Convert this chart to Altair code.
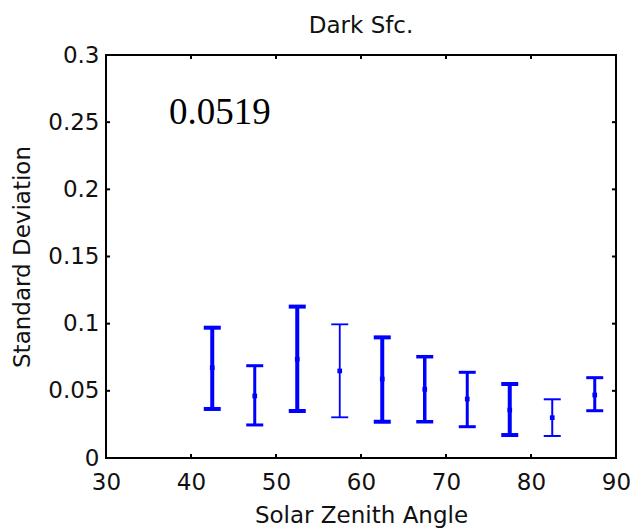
import altair as alt
import pandas as pd

# ---- data ----
angles = [42.5, 47.5, 52.5, 57.5, 62.5, 67.5, 72.5, 77.5, 82.5, 87.5]
means = [0.0672, 0.0462, 0.0735, 0.0648, 0.0588, 0.0511, 0.0439, 0.0357, 0.0300, 0.0469]
lows = [0.0365, 0.0246, 0.0350, 0.0303, 0.0270, 0.0270, 0.0233, 0.0171, 0.0164, 0.0352]
highs = [0.0970, 0.0687, 0.1127, 0.0995, 0.0898, 0.0754, 0.0638, 0.0551, 0.0437, 0.0598]
x_ticks = [30, 40, 50, 60, 70, 80, 90]
y_ticks = [0, 0.05, 0.1, 0.15, 0.2, 0.25, 0.3]
title_text = ["Dark Sfc."]
annotation_text = ["0.0519"]
annotation_x = [37.4]
annotation_y = [0.249]

# ---- styles ----
line_widths = [4.0, 3.0, 4.0, 1.8, 4.0, 3.5, 3.0, 4.0, 2.0, 3.0]
BLUE = "#0000ff"
FONT = "DejaVu Sans"
W, H = 510, 403

df = pd.DataFrame({"angle": angles, "mean": means, "low": lows, "high": highs, "lw": line_widths})
inner_x = pd.DataFrame({"t": x_ticks[1:-1]})
inner_y = pd.DataFrame({"t": y_ticks[1:-1]})
ann = pd.DataFrame({"text": annotation_text, "x": annotation_x, "y": annotation_y})
ttl = pd.DataFrame({"text": title_text})

xs = alt.Scale(domain=[30, 90], nice=False, zero=False)
ys = alt.Scale(domain=[0, 0.3], nice=False)

x_axis = alt.Axis(values=x_ticks, format="d", tickSize=0, domain=False, grid=False,
                  labelFlush=False, labelPadding=13, labelFont=FONT, labelFontSize=23,
                  labelColor="#111",
                  title="Solar Zenith Angle", titleFont=FONT, titleFontSize=23,
                  titleFontWeight="normal", titleColor="#111", titleX=W / 2, titleY=64,
                  titleBaseline="alphabetic")
y_axis = alt.Axis(values=y_ticks, format="~g", tickSize=0, domain=False, grid=False,
                  labelFlush=False, labelPadding=7, labelFont=FONT, labelFontSize=23,
                  labelColor="#111",
                  title="Standard Deviation", titleFont=FONT, titleFontSize=23,
                  titleFontWeight="normal", titleColor="#111", titleX=-84, titleY=H / 2,
                  titleAngle=-90, titleBaseline="middle", titleAlign="center")

base = alt.Chart(df)
sw = alt.StrokeWidth("lw:Q", scale=None, legend=None)

stems = base.mark_rule(color=BLUE, strokeCap="butt").encode(
    x=alt.X("angle:Q", scale=xs, axis=x_axis),
    y=alt.Y("low:Q", scale=ys, axis=y_axis),
    y2="high:Q",
    strokeWidth=sw,
)

caps_data = base.transform_calculate(lo="datum.angle - 1.0", hi="datum.angle + 1.0")
cap_low = caps_data.mark_rule(color=BLUE, strokeCap="butt").encode(
    x=alt.X("lo:Q", scale=xs, axis=x_axis), x2="hi:Q",
    y=alt.Y("low:Q", scale=ys, axis=y_axis),
    strokeWidth=sw,
)
cap_high = caps_data.mark_rule(color=BLUE, strokeCap="butt").encode(
    x=alt.X("lo:Q", scale=xs, axis=x_axis), x2="hi:Q",
    y=alt.Y("high:Q", scale=ys, axis=y_axis),
    strokeWidth=sw,
)
centers = base.mark_square(color=BLUE, filled=True, size=22, opacity=1).encode(
    x=alt.X("angle:Q", scale=xs, axis=x_axis),
    y=alt.Y("mean:Q", scale=ys, axis=y_axis),
)

tk = dict(color="black", strokeWidth=2)
bx = alt.Chart(inner_x).mark_rule(**tk).encode(
    x=alt.X("t:Q", scale=xs, axis=x_axis), y=alt.value(H), y2=alt.value(H - 4))
tx = alt.Chart(inner_x).mark_rule(**tk).encode(
    x=alt.X("t:Q", scale=xs, axis=x_axis), y=alt.value(0), y2=alt.value(4))
ly = alt.Chart(inner_y).mark_rule(**tk).encode(
    y=alt.Y("t:Q", scale=ys, axis=y_axis), x=alt.value(0), x2=alt.value(4))
ry = alt.Chart(inner_y).mark_rule(**tk).encode(
    y=alt.Y("t:Q", scale=ys, axis=y_axis), x=alt.value(W), x2=alt.value(W - 4))

label = alt.Chart(ann).mark_text(font="Liberation Serif", fontSize=37, align="left",
                                 baseline="alphabetic", color="black").encode(
    x=alt.X("x:Q", scale=xs, axis=x_axis),
    y=alt.Y("y:Q", scale=ys, axis=y_axis),
    text="text:N",
)

title = alt.Chart(ttl).mark_text(font=FONT, fontSize=23, align="center",
                                 baseline="alphabetic", color="#111").encode(
    x=alt.value(W / 2), y=alt.value(-22), text="text:N")

chart = alt.layer(stems, cap_low, cap_high, centers, bx, tx, ly, ry, label, title).properties(
    width=W, height=H,
    autosize=alt.AutoSizeParams(type="none"),
    padding={"left": 106, "top": 55, "right": 18, "bottom": 70},
).configure_view(stroke="black", strokeWidth=2)

chart.save("out.html", embed_options={"renderer": "svg", "actions": False})
